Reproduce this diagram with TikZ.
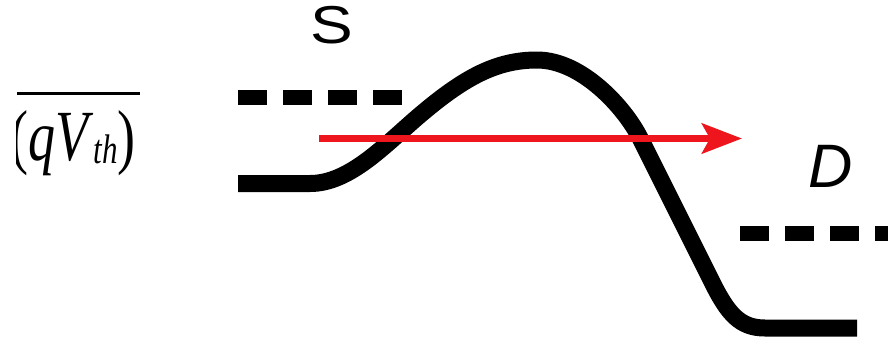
\documentclass[tikz,border=0pt]{standalone}
\usepackage{fontspec}
\usepackage{graphicx}
\setmainfont{Liberation Serif}
\newfontfamily\arialf{Liberation Sans}
\usetikzlibrary{arrows.meta}
\definecolor{arrowred}{RGB}{238,22,28}
\begin{document}
\begin{tikzpicture}[x=0.75pt,y=-0.75pt,
  band/.style={line width=12.75pt},
  level/.style={line width=11.25pt, dash pattern=on 21.75pt off 12pt},
  flow/.style={arrowred, line width=5.25pt, -{Stealth[length=30pt,width=22.5pt,inset=6pt]}},
  lab/.style={inner sep=0pt, font=\arialf}]
\useasboundingbox (0,0) rectangle (888,344);
\clip (0,0) rectangle (888,344);
% fraction remnant
\draw[line width=2.25pt] (17,93.5) -- (140,93.5);
\begin{scope}
\clip (16,0) rectangle (200,200);
\node[inner sep=0pt, anchor=base east] (den) at (136,160)
  {\scalebox{0.75}[1]{\fontsize{54}{54}\selectfont (\textit{qV}\raisebox{-2.25pt}{\fontsize{31}{31}\selectfont\textit{th}})}};
\end{scope}
% energy band
\draw[band] (238,183.5) -- (310,183.5)
  .. controls (350,183.5) and (385,144.75) .. (420,115)
  .. controls (465,76.75) and (497,60) .. (537,60)
  .. controls (582,60) and (625,108) .. (640,138)
  -- (712,282)
  .. controls (728,314) and (740,328) .. (765,328)
  -- (857,328);
% Fermi levels
\draw[level] (238,97.5) -- (402,97.5);
\draw[level] (740,233.5) -- (900,233.5);
% carrier flow
\draw[flow] (319,138.5) -- (742,138.5);
% labels
\node[lab, anchor=base] (S) at (332,43) {\fontsize{40}{40}\selectfont\scalebox{1.2}[1]{S}};
\node[lab, anchor=base] (D) at (831,187) {\fontsize{46}{46}\selectfont\itshape D};
\end{tikzpicture}
\end{document}
